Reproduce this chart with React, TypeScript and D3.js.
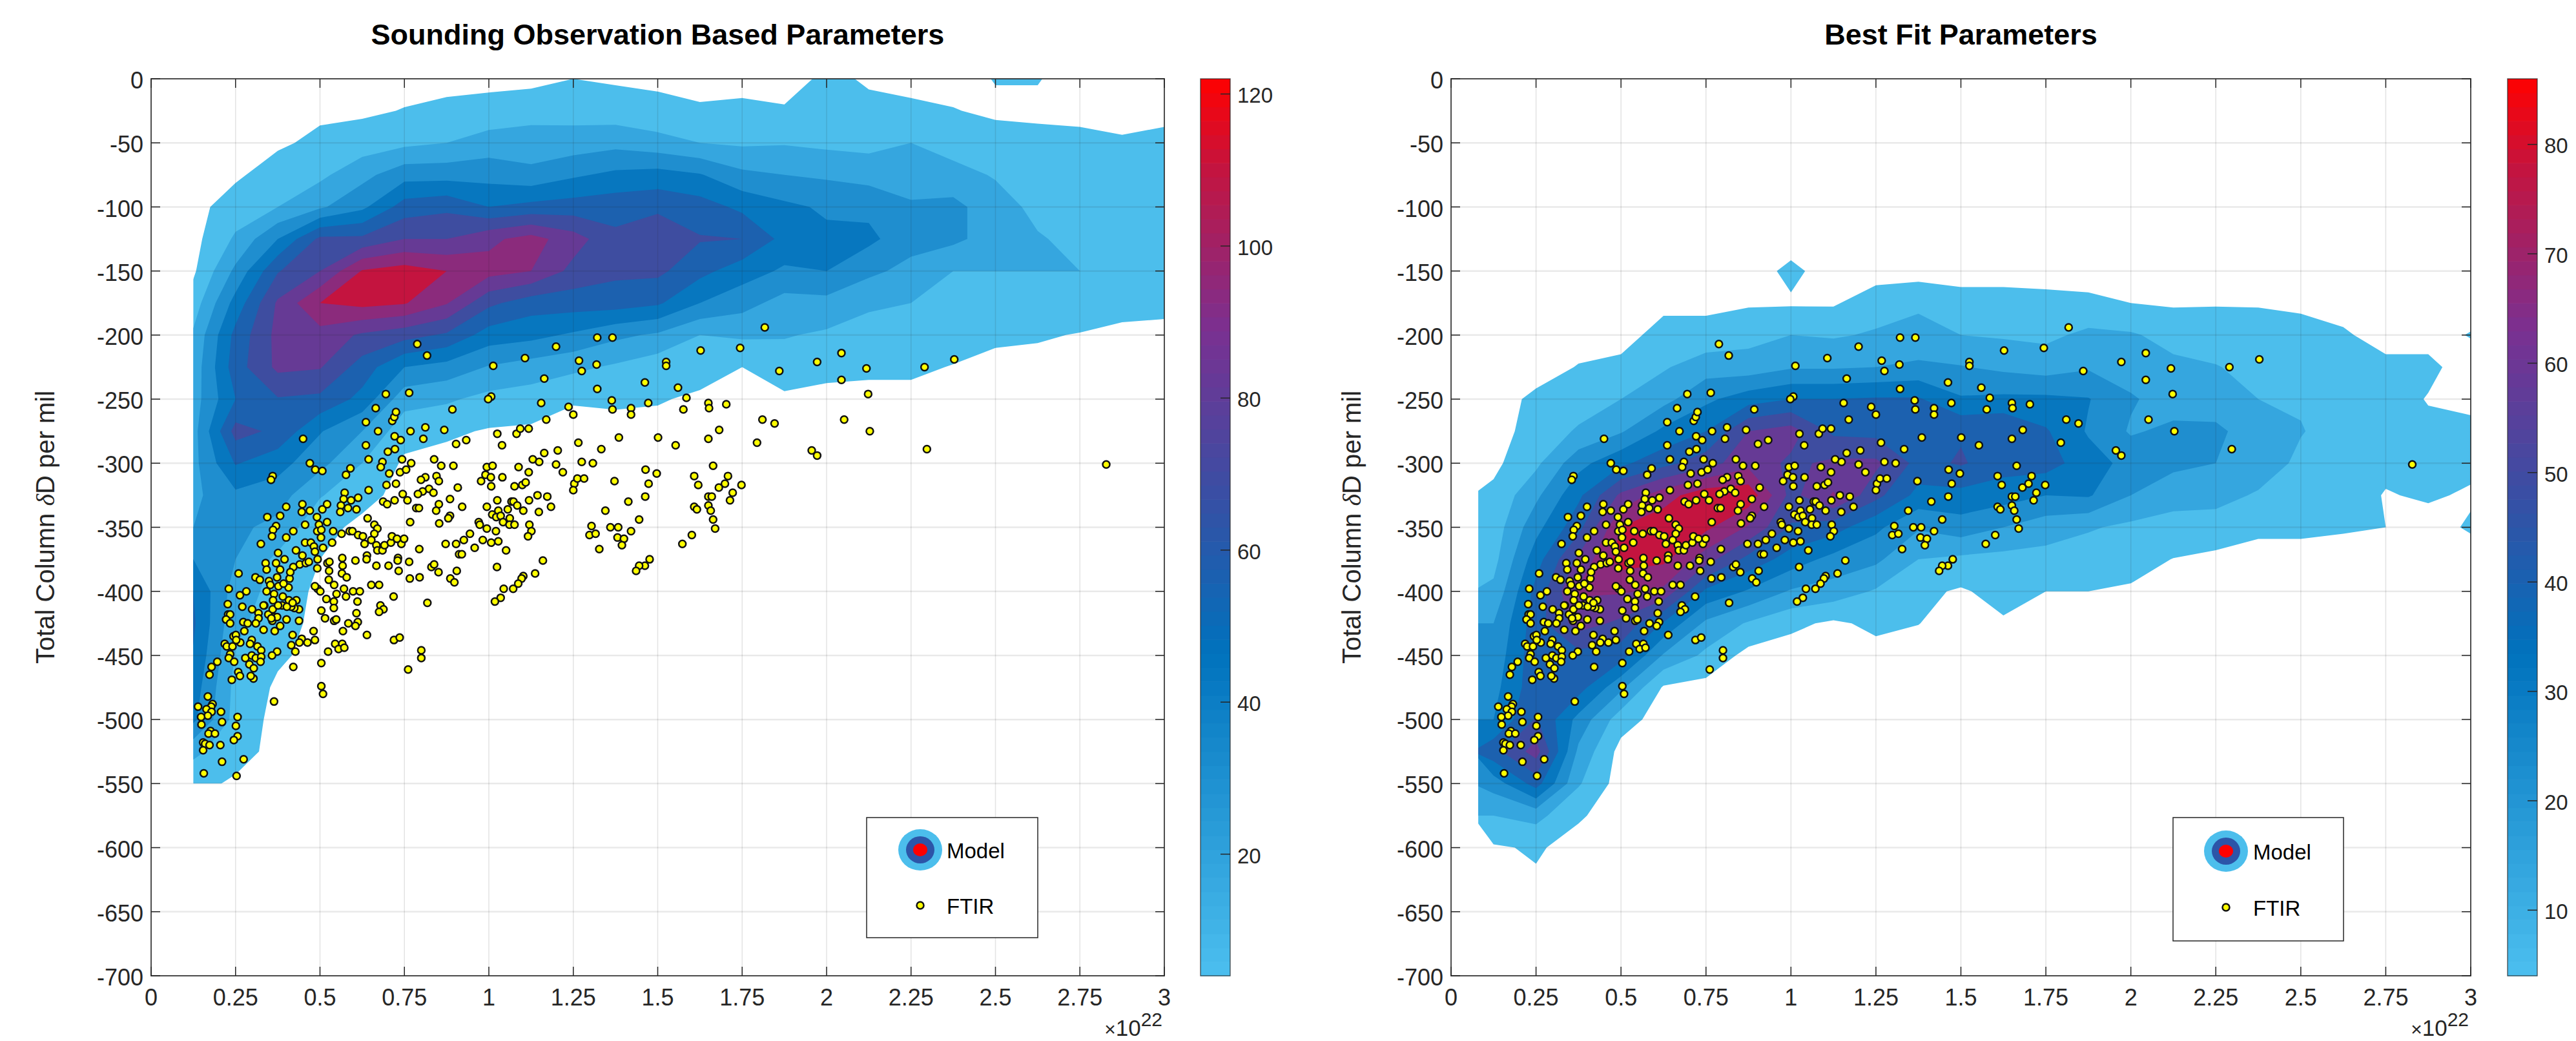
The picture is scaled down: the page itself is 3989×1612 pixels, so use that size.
import React from 'react';
import * as d3 from 'd3';

const xTicks = [0, 0.25, 0.5, 0.75, 1, 1.25, 1.5, 1.75, 2, 2.25, 2.5, 2.75, 3];
const yTicks = [0, -50, -100, -150, -200, -250, -300, -350, -400, -450, -500, -550, -600, -650, -700];
const obsBarTicks = [20, 40, 60, 80, 100, 120];
const fitBarTicks = [10, 20, 30, 40, 50, 60, 70, 80];

// grid of the model density: one list per column, x = 0.125, 0.25 ... 3, rows 0, -25, -50 ...
const gridXStep = 0.125;
const gridYStep = 25;

const obsLevels = [4, 17, 30, 43, 56, 69, 82, 95, 108];
const fitLevels = [4, 13, 22, 31, 40, 49, 58, 67, 76];
const bandColors = ['#4CBEEC', '#35A6DF', '#1F8ECF', '#0777BF', '#1C61AF', '#3E4DA0', '#663A95', '#8B2B7C', '#C4143F'];

const obsDensity = [
  [0, 0, 0, 0, 0, 0, 2, 10, 19, 22, 24, 25, 26, 27, 30, 43, 56, 58, 55, 50, 46, 20, 8],
  [0, 0, 0, 2, 10, 19, 33, 48, 60, 63, 56, 74, 57, 40, 33, 30, 24, 20, 16, 13, 12, 9, 2],
  [0, 0, 2, 10, 17, 43, 68, 84, 86, 85, 68, 66, 48, 36, 26, 14, 12, 10, 6, 2],
  [0, 1.5, 7, 14, 28, 72, 82, 108, 90, 83, 66, 44, 34, 18, 8, 4, 1],
  [0, 2, 10, 26, 40, 72, 109, 112, 80, 63, 52, 30, 17, 8, 1],
  [0, 4.5, 14, 38, 62, 82, 114, 109, 74, 43, 22, 9, 2],
  [0, 7, 17, 38, 66, 82, 108, 96, 67, 38, 19, 6],
  [1, 8, 23, 38, 56, 92, 100, 72, 50, 29, 13, 3],
  [0, 13, 22, 34, 60, 100, 95, 62, 47, 24, 11, 2],
  [4, 12, 23, 41, 62, 88, 78, 62, 41, 20, 5],
  [2.5, 10, 26, 46, 64, 72, 72, 62, 33, 15, 6],
  [2, 7, 22, 48, 66, 80, 72, 58, 28, 9, 5],
  [0, 5.5, 17, 44, 62, 70, 60, 43, 17, 9, 2],
  [1, 6, 15, 33, 53, 69, 49, 35, 19, 4],
  [0, 5, 16, 30, 46, 52, 41, 25, 18, 10, 2],
  [6, 8, 14, 28, 41, 46, 43, 26, 15, 7, 1],
  [3, 6, 13, 25, 40, 46, 33, 19, 12, 6, 1],
  [1, 6, 17, 23, 32, 35, 26, 17, 11, 6, 1],
  [0, 4.5, 12, 21, 34, 33, 17, 12, 9, 3.5],
  [4.5, 2, 9, 16, 22, 24, 17, 11, 6, 1],
  [4.5, 2, 7, 11, 14, 18, 17, 11, 5, 1],
  [0, 2, 6, 9, 11, 14, 17, 10, 3.5],
  [0, 1, 5, 8, 9, 10, 11, 7, 2],
  [0, 2, 6, 8, 9, 9, 9, 6, 2]
];

const fitDensity = [
  [0, 0, 0, 0, 0, 0, 0, 0, 0, 0, 0, 0, 2, 6, 8, 10, 15, 22, 25, 28, 31, 46, 26, 13, 3],
  [0, 0, 0, 0, 0, 0, 0, 0, 0, 0, 6, 8, 11, 20, 28, 36, 43, 45, 46, 46, 50, 62, 44, 16, 5],
  [0, 0, 0, 0, 0, 0, 0, 0, 0, 4.5, 9, 14, 28, 38, 46, 60, 68, 62, 46, 44, 28, 20, 14, 5, 1],
  [0, 0, 0, 0, 0, 0, 0, 0, 1, 6, 13, 21, 38, 60, 76, 80, 68, 56, 44, 24, 8, 1],
  [0, 0, 0, 0, 0, 0, 0, 2, 7, 12, 19, 33, 46, 72, 82, 78, 65, 39, 21, 3],
  [0, 0, 0, 0, 0, 0, 0, 2, 7, 18, 29, 40, 54, 82, 78, 62, 38, 20, 11, 1],
  [0, 0, 0, 0, 0, 0, 0, 3, 10, 17, 36, 58, 64, 82, 66, 46, 30, 12, 1],
  [0, 0, 0, 0, 0, 0, 6, 3, 13, 21, 40, 62, 56, 55, 48, 36, 21, 6],
  [0, 0, 0, 0, 0, 0, 0, 3, 12, 21, 40, 47, 60, 68, 44, 28, 18, 2.5],
  [0, 0, 0, 0, 0, 0, 0, 9, 14, 22, 41, 46, 60, 52, 33, 24, 12, 6, 1],
  [0, 0, 0, 0, 0, 0, 0, 12, 15, 24, 41, 45, 46, 37, 23, 13, 6, 4.2],
  [0, 0, 0, 0, 0, 0, 0, 8, 13, 22.5, 32, 48, 50, 37, 27, 11, 3],
  [0, 0, 0, 0, 0, 0, 0, 8, 12, 20, 33, 49, 44, 35, 22, 10, 7, 3],
  [0, 0, 0, 0, 0, 0, 0, 7, 11, 18, 33, 41, 44, 31, 17, 10, 4],
  [0, 0, 0, 0, 0, 0, 0, 6, 15, 21, 31.5, 30, 35, 32, 14, 8, 4],
  [0, 0, 0, 0, 0, 0, 0, 4, 14, 18, 23, 21, 28, 22, 11, 7, 3],
  [0, 0, 0, 0, 0, 0, 0, 3, 10, 15, 18, 24, 24, 17, 9, 3.8],
  [0, 0, 0, 0, 0, 0, 0, 3.5, 8, 13.5, 17, 24, 22, 16, 9, 2],
  [0, 0, 0, 0, 0, 0, 0, 3.5, 7, 10, 13, 17, 18, 12, 6, 0.5],
  [0, 0, 0, 0, 0, 0, 0, 3, 6, 9, 12, 13.5, 11, 9, 6, 0.5],
  [0, 0, 0, 0, 0, 0, 0, 1, 5, 7, 8, 9, 9, 8, 5],
  [0, 0, 0, 0, 0, 0, 0, 0, 1, 6, 8, 8, 6, 3.5, 4],
  [0, 0, 0, 0, 0, 0, 0, 0, 1, 6, 3.5, 6, 6, 5, 1],
  [0, 0, 0, 0, 0, 0, 0, 0, 4.5, 0, 2, 6, 6, 3, 5]
];

// FTIR soundings: column amount (x 10^22), delta D per mil
const ftirPoints = [
  [0.788, -207], [0.817, -216], [1.013, -224], [1.107, -218], [1.199, -209], [1.267, -220], [1.275, -228], [1.319, -223],
  [1.321, -202], [1.366, -202], [1.164, -234], [1.321, -242], [1.462, -237], [1.155, -253], [1.236, -256], [1.25, -262],
  [1.17, -266], [1.364, -251], [1.366, -258], [1.421, -257], [1.421, -262], [1.472, -253], [1.007, -248], [0.998, -250],
  [0.892, -258], [0.764, -245], [0.695, -246], [0.665, -257], [0.636, -268], [0.714, -267], [0.72, -264], [0.725, -260],
  [0.672, -275], [0.768, -275], [0.812, -272], [0.868, -274], [1.025, -277], [1.082, -277], [1.093, -273], [1.118, -273],
  [1.265, -284], [1.333, -289], [1.385, -280], [0.45, -281], [0.636, -286], [0.721, -279], [0.739, -282], [0.806, -281],
  [0.903, -285], [0.933, -282], [1.039, -286], [0.722, -289], [0.701, -291], [1.13, -297], [1.149, -299], [1.164, -292],
  [1.204, -290], [1.199, -301], [1.219, -307], [1.275, -299], [1.308, -300], [1.088, -303], [1.118, -307], [0.994, -303],
  [1.011, -302], [0.99, -309], [1.006, -311], [1.04, -311], [0.977, -314], [1.007, -318], [1.076, -318], [1.099, -317],
  [1.109, -315], [1.253, -316], [1.262, -312], [1.282, -312], [1.25, -321], [1.464, -305], [1.497, -308], [1.372, -314],
  [1.473, -316], [1.463, -326], [0.838, -297], [0.859, -302], [0.895, -302], [0.743, -297], [0.77, -300], [0.685, -299],
  [0.68, -303], [0.705, -308], [0.737, -307], [0.755, -305], [0.644, -297], [0.59, -304], [0.577, -309], [0.47, -300],
  [0.486, -305], [0.507, -306], [0.36, -310], [0.355, -313], [0.812, -311], [0.799, -313], [0.845, -310], [0.852, -314],
  [0.823, -320], [0.804, -322], [0.836, -323], [0.908, -319], [0.725, -316], [0.697, -317], [0.644, -321], [0.613, -327],
  [0.573, -323], [0.592, -329], [0.57, -328], [0.562, -333], [0.56, -338], [0.583, -335], [0.608, -336], [0.521, -332],
  [0.507, -336], [0.47, -337], [0.448, -332], [0.446, -338], [0.4, -334], [0.382, -341], [0.344, -342], [0.37, -349],
  [0.361, -352], [0.358, -357], [0.421, -353], [0.456, -348], [0.491, -342], [0.497, -348], [0.492, -353], [0.521, -346],
  [0.504, -352], [0.687, -330], [0.699, -332], [0.721, -329], [0.745, -324], [0.759, -329], [0.79, -324], [0.785, -335],
  [0.793, -335], [0.852, -332], [0.844, -337], [0.885, -328], [0.921, -334], [0.885, -341], [0.88, -343], [0.853, -347],
  [0.767, -346], [0.641, -343], [0.661, -348], [0.67, -351], [0.661, -355], [0.588, -353], [0.596, -353], [0.564, -355],
  [0.539, -353], [0.613, -356], [0.627, -357], [0.632, -363], [0.652, -360], [0.667, -364], [0.67, -368], [0.685, -368],
  [0.691, -364], [0.71, -362], [0.713, -357], [0.741, -363], [0.728, -359], [0.749, -359], [0.794, -367], [0.872, -363],
  [0.903, -363], [0.926, -360], [0.944, -355], [0.97, -346], [0.973, -348], [0.982, -360], [0.958, -366], [0.912, -371],
  [0.92, -371], [0.994, -351], [1.021, -353], [1.007, -362], [1.028, -361], [1.051, -368], [1.024, -381], [0.994, -334],
  [1.025, -329], [1.01, -340], [1.028, -337], [1.056, -336], [1.022, -342], [1.035, -341], [1.042, -346], [1.067, -330],
  [1.073, -330], [1.062, -343], [1.061, -348], [1.076, -348], [1.084, -333], [1.119, -329], [1.102, -337], [1.148, -338],
  [1.144, -325], [1.173, -326], [1.184, -334], [1.12, -348], [1.126, -353], [1.116, -357], [1.16, -376], [1.137, -386],
  [1.102, -388], [1.097, -390], [1.087, -394], [1.072, -398], [1.044, -398], [1.035, -405], [1.018, -408], [1.345, -337],
  [1.413, -330], [1.445, -344], [1.421, -353], [1.304, -349], [1.298, -356], [1.316, -355], [1.36, -350], [1.383, -350],
  [1.381, -358], [1.4, -359], [1.394, -364], [1.327, -367], [1.476, -375], [1.462, -380], [1.445, -380], [1.436, -384],
  [0.325, -363], [0.4, -358], [0.429, -368], [0.376, -370], [0.456, -362], [0.473, -362], [0.482, -365], [0.509, -366],
  [0.503, -358], [0.536, -362], [0.485, -369], [0.448, -372], [0.44, -379], [0.458, -378], [0.467, -377], [0.492, -382],
  [0.493, -375], [0.522, -378], [0.528, -377], [0.527, -384], [0.566, -374], [0.567, -380], [0.605, -376], [0.639, -372],
  [0.638, -375], [0.667, -380], [0.703, -380], [0.731, -374], [0.73, -376], [0.764, -377], [0.733, -384], [0.795, -389],
  [0.766, -390], [0.83, -381], [0.838, -379], [0.851, -385], [0.905, -384], [0.886, -390], [0.898, -393], [0.818, -409],
  [0.718, -404], [0.679, -411], [0.688, -414], [0.675, -416], [0.565, -386], [0.579, -389], [0.526, -391], [0.542, -395],
  [0.493, -398], [0.485, -396], [0.501, -400], [0.571, -398], [0.549, -402], [0.598, -400], [0.618, -400], [0.577, -404],
  [0.519, -406], [0.541, -408], [0.541, -413], [0.504, -415], [0.611, -408], [0.608, -417], [0.515, -421], [0.542, -423],
  [0.548, -422], [0.612, -424], [0.584, -425], [0.605, -427], [0.568, -431], [0.481, -431], [0.419, -434], [0.639, -434],
  [0.485, -438], [0.446, -437], [0.439, -440], [0.463, -440], [0.415, -442], [0.427, -447], [0.545, -441], [0.566, -441],
  [0.555, -445], [0.572, -444], [0.524, -447], [0.373, -447], [0.358, -450], [0.504, -456], [0.421, -459], [0.504, -474],
  [0.509, -480], [0.364, -486], [0.719, -438], [0.736, -436], [0.8, -446], [0.8, -452], [0.761, -461], [0.652, -395],
  [0.675, -395], [0.309, -389], [0.322, -391], [0.259, -386], [0.23, -398], [0.263, -403], [0.282, -400], [0.227, -410],
  [0.27, -412], [0.228, -418], [0.234, -418], [0.222, -422], [0.234, -425], [0.273, -424], [0.286, -425], [0.276, -431],
  [0.299, -414], [0.318, -417], [0.318, -421], [0.31, -425], [0.335, -411], [0.347, -418], [0.36, -414], [0.333, -430],
  [0.359, -423], [0.364, -420], [0.373, -420], [0.401, -422], [0.382, -427], [0.366, -431], [0.438, -423], [0.438, -414],
  [0.424, -413], [0.415, -412], [0.408, -407], [0.43, -407], [0.39, -404], [0.364, -402], [0.342, -400], [0.349, -392],
  [0.353, -395], [0.377, -396], [0.407, -397], [0.392, -394], [0.41, -390], [0.421, -381], [0.412, -385], [0.382, -383],
  [0.37, -378], [0.339, -378], [0.342, -383], [0.395, -375], [0.373, -389], [0.361, -407], [0.333, -411], [0.388, -411],
  [0.376, -411], [0.402, -412], [0.419, -409], [0.356, -421], [0.244, -435], [0.251, -434], [0.218, -441], [0.224, -443],
  [0.241, -443], [0.264, -440], [0.252, -438], [0.298, -438], [0.293, -441], [0.315, -443], [0.326, -446], [0.234, -449],
  [0.23, -452], [0.246, -455], [0.279, -452], [0.298, -450], [0.31, -452], [0.326, -451], [0.324, -455], [0.291, -457],
  [0.304, -460], [0.196, -455], [0.179, -459], [0.173, -465], [0.258, -463], [0.263, -466], [0.239, -469], [0.303, -468],
  [0.295, -466], [0.168, -482], [0.139, -490], [0.182, -488], [0.178, -490], [0.164, -492], [0.179, -494], [0.168, -497],
  [0.148, -498], [0.207, -494], [0.256, -498], [0.149, -504], [0.21, -502], [0.251, -505], [0.176, -509], [0.17, -511],
  [0.189, -511], [0.256, -513], [0.245, -516], [0.154, -518], [0.16, -519], [0.173, -520], [0.205, -520], [0.154, -524],
  [0.21, -533], [0.274, -531], [0.156, -542], [0.253, -544], [1.817, -194], [1.627, -212], [1.744, -210], [1.525, -221],
  [1.525, -224], [1.56, -241], [1.585, -249], [1.576, -258], [1.65, -253], [1.652, -257], [1.703, -254], [1.86, -228],
  [1.972, -221], [2.044, -214], [2.118, -226], [2.044, -235], [2.123, -246], [2.29, -225], [2.378, -219], [1.81, -266],
  [1.846, -269], [2.052, -266], [2.128, -275], [1.682, -274], [1.501, -280], [1.553, -286], [1.65, -281], [1.794, -284],
  [1.956, -290], [1.972, -294], [2.297, -289], [2.828, -301], [1.664, -302], [1.608, -310], [1.708, -310], [1.62, -317],
  [1.699, -316], [1.681, -319], [1.748, -317], [1.722, -323], [1.65, -326], [1.66, -326], [1.714, -329], [1.608, -334],
  [1.616, -336], [1.65, -333], [1.657, -337], [1.664, -344], [1.67, -351], [1.601, -356], [1.573, -363]
];

const cmapStops = ['#4CBFEF', '#0072BD', '#2C55A8', '#7A3091', '#C4143F', '#FF0000'];
const cmapPos = [0, 0.36, 0.5, 0.72, 0.9, 1];
const ink = '#262626';

function Panel(props: any) {
  const { id, title, density, levels, dataLeft, dataBottom, axes, bar, barDomain, barTicks, legend, labelX } = props;

  const x = d3.scaleLinear().domain([0, 3]).range([axes.left, axes.right]);
  const y = d3.scaleLinear().domain([-700, 0]).range([axes.bottom, axes.top]);

  const nx = density.length;
  const ny = d3.max(density, (c: number[]) => c.length) as number;
  const values: number[] = [];
  for (let j = 0; j < ny; j++) for (let i = 0; i < nx; i++) values.push(density[i][j] ?? 0);

  const contours = d3.contours().size([nx, ny]).thresholds(levels)(values);

  // contour coordinates have the cell centres at i + 0.5
  const path = d3.geoPath(
    d3.geoTransform({
      point(px: number, py: number) {
        (this as any).stream.point(x(gridXStep * (px + 0.5)), y(-gridYStep * (py - 0.5)));
      }
    })
  );

  const colorPos = d3.scaleLinear<string>().domain(cmapPos).range(cmapStops);
  const barY = d3.scaleLinear().domain(barDomain).range([axes.bottom, axes.top]);
  const steps = d3.range(64);
  const stepH = (axes.bottom - axes.top) / 64;

  return (
    <g>
      <clipPath id={id}>
        <rect x={x(dataLeft)} y={y(0)} width={x(3) - x(dataLeft)} height={y(dataBottom) - y(0)} />
      </clipPath>
      <g clipPath={`url(#${id})`}>
        {contours.map((c, i) => (
          <path key={i} d={path(c as any) as string} fill={bandColors[i]} />
        ))}
      </g>

      {xTicks.map(t => (
        <line key={t} x1={x(t)} x2={x(t)} y1={axes.top} y2={axes.bottom} stroke={ink} strokeOpacity={0.13} strokeWidth={1.5} />
      ))}
      {yTicks.map(t => (
        <line key={t} x1={axes.left} x2={axes.right} y1={y(t)} y2={y(t)} stroke={ink} strokeOpacity={0.1} strokeWidth={2.5} />
      ))}

      {ftirPoints.map((p, i) => (
        <circle key={i} cx={x(p[0])} cy={y(p[1])} r={5.5} fill="#FFFF00" stroke="#111" strokeWidth={2.5} />
      ))}

      <rect x={axes.left} y={axes.top} width={axes.right - axes.left} height={axes.bottom - axes.top} fill="none" stroke={ink} strokeOpacity={0.8} strokeWidth={2} />
      {xTicks.map(t => (
        <g key={t}>
          <line x1={x(t)} x2={x(t)} y1={axes.bottom} y2={axes.bottom - 14} stroke={ink} strokeWidth={1.5} />
          <line x1={x(t)} x2={x(t)} y1={axes.top} y2={axes.top + 14} stroke={ink} strokeWidth={1.5} />
          <text x={x(t)} y={axes.bottom + 46} textAnchor="middle" fontSize={36} fill={ink}>
            {t}
          </text>
        </g>
      ))}
      {yTicks.map(t => (
        <g key={t}>
          <line x1={axes.left} x2={axes.left + 14} y1={y(t)} y2={y(t)} stroke={ink} strokeWidth={1.5} />
          <line x1={axes.right} x2={axes.right - 14} y1={y(t)} y2={y(t)} stroke={ink} strokeWidth={1.5} />
          <text x={axes.left - 12} y={y(t)} dy="0.42em" textAnchor="end" fontSize={36} fill={ink}>
            {t}
          </text>
        </g>
      ))}

      <text x={(axes.left + axes.right) / 2} y={69} textAnchor="middle" fontSize={45} fontWeight="bold" fill="#000">
        {title}
      </text>
      <text transform={`translate(${labelX},${(axes.top + axes.bottom) / 2}) rotate(-90)`} textAnchor="middle" fontSize={40} fill={ink}>
        Total Column <tspan fontFamily="'Liberation Serif'" fontStyle="italic">δ</tspan>D per mil
      </text>

      <text x={axes.right - 3} y={1604} textAnchor="end" fontSize={35} fill={ink}>
        <tspan fontSize={30}>×</tspan>10<tspan dy={-15} fontSize={30}>22</tspan>
      </text>

      {steps.map(s => (
        <rect
          key={s}
          x={bar.left}
          y={axes.bottom - (s + 1) * stepH}
          width={bar.right - bar.left}
          height={stepH + 0.6}
          fill={colorPos((s + 0.5) / 64)}
        />
      ))}
      <rect x={bar.left} y={axes.top} width={bar.right - bar.left} height={axes.bottom - axes.top} fill="none" stroke={ink} strokeOpacity={0.7} strokeWidth={1.5} />
      {barTicks.map((t: number) => (
        <g key={t}>
          <line x1={bar.right} x2={bar.right - 15} y1={barY(t)} y2={barY(t)} stroke={ink} strokeWidth={1.5} />
          <text x={bar.right + 11} y={barY(t)} dy="0.42em" fontSize={33} fill={ink}>
            {t}
          </text>
        </g>
      ))}

      <rect x={legend.left} y={legend.top} width={legend.right - legend.left} height={legend.bottom - legend.top} fill="#fff" stroke={ink} strokeWidth={1.5} />
      <ellipse cx={legend.cx} cy={legend.y1} rx={34} ry={32} fill={bandColors[0]} />
      <ellipse cx={legend.cx} cy={legend.y1} rx={22} ry={21} fill="#2C55A8" />
      <ellipse cx={legend.cx} cy={legend.y1} rx={11} ry={10} fill="#FF0000" />
      <circle cx={legend.cx} cy={legend.y2} r={5.5} fill="#FFFF00" stroke="#111" strokeWidth={2.5} />
      <text x={legend.tx} y={legend.y1} dy="0.38em" fontSize={33} fill="#000">
        Model
      </text>
      <text x={legend.tx} y={legend.y2} dy="0.38em" fontSize={33} fill="#000">
        FTIR
      </text>
    </g>
  );
}

export default function App() {
  return (
    <svg
      width={3989}
      height={1612}
      style={{ position: 'absolute', left: 0, top: 0, background: '#fff' }}
      fontFamily="'Liberation Sans', Arial, sans-serif"
    >
      <Panel
        id="obs"
        title="Sounding Observation Based Parameters"
        density={obsDensity}
        levels={obsLevels}
        dataLeft={0.125}
        dataBottom={-550}
        axes={{ left: 234, right: 1803, top: 122, bottom: 1511 }}
        bar={{ left: 1859, right: 1905 }}
        barDomain={[4, 122]}
        barTicks={obsBarTicks}
        legend={{ left: 1342, right: 1607, top: 1266, bottom: 1452, cx: 1425, y1: 1316, y2: 1402, tx: 1466 }}
        labelX={84}
      />
      <Panel
        id="fit"
        title="Best Fit Parameters"
        density={fitDensity}
        levels={fitLevels}
        dataLeft={0.08}
        dataBottom={-650}
        axes={{ left: 2247, right: 3826, top: 122, bottom: 1511 }}
        bar={{ left: 3883, right: 3929 }}
        barDomain={[4, 86]}
        barTicks={fitBarTicks}
        legend={{ left: 3365, right: 3629, top: 1266, bottom: 1457, cx: 3447, y1: 1318, y2: 1405, tx: 3489 }}
        labelX={2107}
      />
    </svg>
  );
}
